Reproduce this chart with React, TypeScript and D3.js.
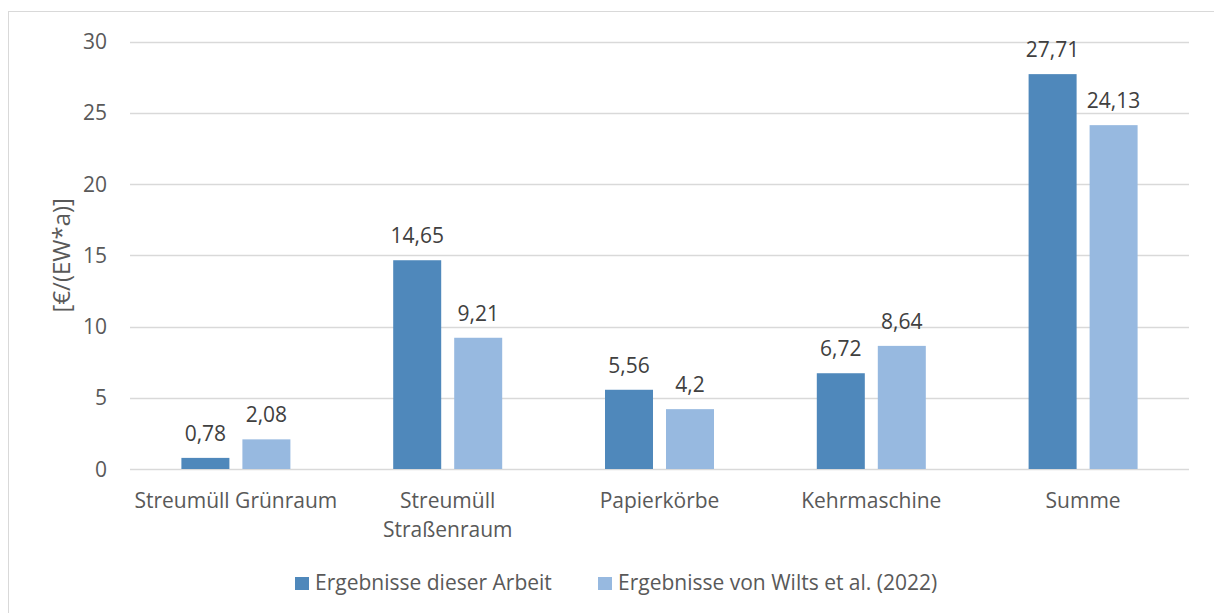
import React, { useEffect, useRef } from "react";
import * as d3 from "d3";

const categories = ["Streumüll Grünraum", "Streumüll Straßenraum", "Papierkörbe", "Kehrmaschine", "Summe"];
const categoryLines = [["Streumüll Grünraum"], ["Streumüll", "Straßenraum"], ["Papierkörbe"], ["Kehrmaschine"], ["Summe"]];
const seriesNames = ["Ergebnisse dieser Arbeit", "Ergebnisse von Wilts et al. (2022)"];
const dieserArbeit = [0.78, 14.65, 5.56, 6.72, 27.71];
const wilts = [2.08, 9.21, 4.2, 8.64, 24.13];
const yTicks = [0, 5, 10, 15, 20, 25, 30];
const colors = ["#4f88bb", "#97b9e0"];

const W = 1214;
const H = 613;
const FONT = "'Open Sans', sans-serif";
const TEXT = "#595959";
const FS = 21;

const fmt = (v: number) => String(v).replace(".", ",");

const App = () => {
  const ref = useRef<SVGSVGElement>(null);

  useEffect(() => {
    const svg = d3.select(ref.current);
    svg.selectAll("*").remove();

    const x = d3.scaleBand().domain(categories).range([130, 1189]);
    const y = d3.scaleLinear().domain([0, 30]).range([469, 41.5]);
    const bw = x.bandwidth();
    const xs = d3.scaleBand().domain(seriesNames).range([bw / 2 - 54.5, bw / 2 + 54.5]).paddingInner(0.213);

    // chart border
    svg.append("rect")
      .attr("x", 8.5).attr("y", 11.5)
      .attr("width", W).attr("height", H)
      .attr("fill", "white").attr("stroke", "#d9d9d9");

    // gridlines
    svg.append("g")
      .selectAll("line")
      .data(yTicks)
      .join("line")
      .attr("x1", 130).attr("x2", 1189)
      .attr("y1", d => Math.round(y(d)) + 0.5)
      .attr("y2", d => Math.round(y(d)) + 0.5)
      .attr("stroke", "#d9d9d9").attr("stroke-width", 1.3);

    // y tick labels
    svg.append("g")
      .selectAll("text")
      .data(yTicks)
      .join("text")
      .attr("x", 107)
      .attr("y", d => y(d))
      .attr("dy", "0.36em")
      .attr("text-anchor", "end")
      .attr("font-family", FONT).attr("font-size", FS).attr("fill", TEXT)
      .text(d => d);

    svg.append("text")
      .attr("transform", `translate(70,${(y(0) + y(30)) / 2}) rotate(-90)`)
      .attr("text-anchor", "middle")
      .attr("font-family", FONT).attr("font-size", 24).attr("fill", TEXT)
      .text("[€/(EW*a)]");

    const series = [dieserArbeit, wilts];
    series.forEach((vals, si) => {
      const g = svg.append("g");
      g.selectAll("rect")
        .data(vals)
        .join("rect")
        .attr("x", (_, i) => x(categories[i])! + xs(seriesNames[si])!)
        .attr("y", d => y(d))
        .attr("width", xs.bandwidth())
        .attr("height", d => y(0) - y(d))
        .attr("fill", colors[si]);
      g.selectAll("text")
        .data(vals)
        .join("text")
        .attr("x", (_, i) => x(categories[i])! + xs(seriesNames[si])! + xs.bandwidth() / 2)
        .attr("y", d => y(d) - 17)
        .attr("text-anchor", "middle")
        .attr("font-family", FONT).attr("font-size", FS).attr("fill", "#404040")
        .text(d => fmt(d));
    });

    // category labels
    const cl = svg.append("g")
      .selectAll("text")
      .data(categories)
      .join("text")
      .attr("x", d => x(d)! + bw / 2)
      .attr("y", 508)
      .attr("text-anchor", "middle")
      .attr("font-family", FONT).attr("font-size", FS).attr("fill", TEXT);
    cl.each(function (_, i) {
      d3.select(this).selectAll("tspan")
        .data(categoryLines[i])
        .join("tspan")
        .attr("x", x(categories[i])! + bw / 2)
        .attr("dy", (_, j) => (j === 0 ? 0 : 29))
        .text(t => t);
    });

    // legend
    const legendX = [295, 598];
    const lg = svg.append("g")
      .selectAll("g")
      .data(seriesNames)
      .join("g")
      .attr("transform", (_, i) => `translate(${legendX[i]},590)`);
    lg.append("rect")
      .attr("x", 0).attr("y", -13).attr("width", 14).attr("height", 13)
      .attr("fill", (_, i) => colors[i]);
    lg.append("text")
      .attr("x", 20)
      .attr("font-family", FONT).attr("font-size", FS).attr("fill", TEXT)
      .text(d => d);
  }, []);

  return (
    <svg
      ref={ref}
      width={W}
      height={H}
      style={{ position: "absolute", left: 0, top: 0, display: "block", background: "white" }}
    />
  );
};

export default App;
